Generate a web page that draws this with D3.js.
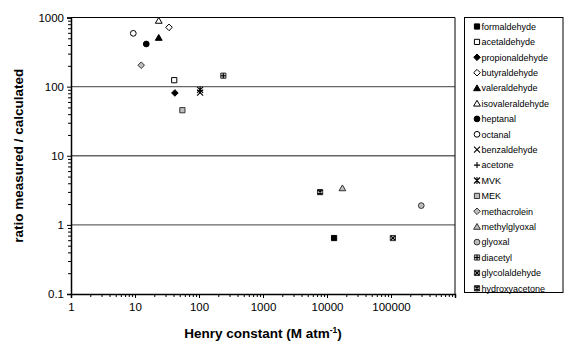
<!DOCTYPE html>
<html>
<head>
<meta charset="utf-8">
<script src="https://cdn.jsdelivr.net/npm/d3@7"></script>
<style>
  body { margin: 0; background: #fff; }
  svg { display: block; font-family: "Liberation Sans", Arial, sans-serif; }
</style>
</head>
<body>
<script>
// compounds, in legend order
const names = [
  "formaldehyde", "acetaldehyde", "propionaldehyde", "butyraldehyde",
  "valeraldehyde", "isovaleraldehyde", "heptanal", "octanal",
  "benzaldehyde", "acetone", "MVK", "MEK", "methacrolein",
  "methylglyoxal", "glyoxal", "diacetyl", "glycolaldehyde", "hydroxyacetone"
];
// Henry constant (M atm-1)
const henry = [12900, 41, 42, 34, 23.5, 23.5, 15, 9.4, 104, 104, 104, 55, 12.5, 17400, 297000, 240, 107000, 7800];
// ratio measured / calculated
const ratio = [0.645, 124, 81, 720, 510, 900, 414, 590, 82, 88, 90, 45.6, 204, 3.4, 1.9, 144, 0.645, 2.98];

const xTicks = [1, 10, 100, 1000, 10000, 100000];
const yTicks = [0.1, 1, 10, 100, 1000];

// marker look per compound
const markers = [
  {shape: "square", fill: "#000"},
  {shape: "square", fill: "#fff"},
  {shape: "diamond", fill: "#000"},
  {shape: "diamond", fill: "#fff"},
  {shape: "triangle", fill: "#000"},
  {shape: "triangle", fill: "#fff"},
  {shape: "circle", fill: "#000"},
  {shape: "circle", fill: "#fff"},
  {shape: "x", fill: "none"},
  {shape: "plus", fill: "none"},
  {shape: "star", fill: "none"},
  {shape: "square", fill: "#bdbdbd"},
  {shape: "diamond", fill: "#bdbdbd"},
  {shape: "triangle", fill: "#bdbdbd"},
  {shape: "circle", fill: "#bdbdbd"},
  {shape: "square", fill: "#bdbdbd", over: "plus"},
  {shape: "square", fill: "#bdbdbd", over: "x"},
  {shape: "square", fill: "#bdbdbd", over: "star"}
];

const width = 565, height = 345;
const margin = {top: 17.5, right: 110, bottom: 51, left: 71};

const x = d3.scaleLog().domain([1, 1e6]).range([margin.left, width - margin.right]);
const y = d3.scaleLog().domain([0.1, 1000]).range([height - margin.bottom, margin.top]);

const svg = d3.select("body").append("svg")
  .attr("width", width)
  .attr("height", height);

// horizontal gridlines
svg.append("g")
  .selectAll("line")
  .data(yTicks.slice(1, -1))
  .join("line")
  .attr("x1", x(1)).attr("x2", x(1e6))
  .attr("y1", (d) => y(d)).attr("y2", (d) => y(d))
  .attr("stroke", "#666")
  .attr("stroke-width", 1.4);

// plot frame (top and right)
svg.append("path")
  .attr("d", `M${x(1)},${y(1000)}H${x(1e6)}V${y(0.1)}`)
  .attr("fill", "none")
  .attr("stroke", "#000")
  .attr("stroke-width", 1);

const minorY = d3.range(-1, 3).flatMap((e) => d3.range(2, 10).map((m) => m * 10 ** e));
const minorX = d3.range(0, 6).flatMap((e) => d3.range(2, 10).map((m) => m * 10 ** e));

// y axis
const yAxis = svg.append("g").attr("transform", `translate(${x(1)},0)`);
yAxis.append("g")
  .call(d3.axisLeft(y).tickValues(minorY).tickSize(3).tickFormat(""))
  .call((g) => g.select(".domain").remove());
yAxis.append("g")
  .call(d3.axisLeft(y).tickValues(yTicks).tickSize(4).tickPadding(3).tickFormat((d) => String(d)))
  .call((g) => g.select(".domain").attr("stroke-width", 1.5))
  .call((g) => g.selectAll("text").attr("font-size", 11.5).attr("fill", "#000")
    .attr("font-family", "Liberation Sans, Arial, sans-serif"));

// x axis
const xAxis = svg.append("g").attr("transform", `translate(0,${y(0.1)})`);
xAxis.append("g")
  .call(d3.axisBottom(x).tickValues(minorX).tickSize(3).tickFormat(""))
  .call((g) => g.select(".domain").remove());
xAxis.append("g")
  .call(d3.axisBottom(x).tickValues(xTicks.concat([1e6])).tickSize(4).tickPadding(5)
    .tickFormat((d) => (d < 1e6 ? String(d) : "")))
  .call((g) => g.select(".domain").attr("stroke-width", 1.5))
  .call((g) => g.selectAll("text").attr("font-size", 11.5).attr("fill", "#000")
    .attr("font-family", "Liberation Sans, Arial, sans-serif"));

// axis titles
svg.append("text")
  .attr("transform", `translate(23,${(y(1000) + y(0.1)) / 2}) rotate(-90)`)
  .attr("text-anchor", "middle")
  .attr("font-size", 13.5)
  .attr("font-weight", "bold")
  .text("ratio measured / calculated");

const xt = svg.append("text")
  .attr("x", (x(1) + x(1e6)) / 2)
  .attr("y", 338)
  .attr("text-anchor", "middle")
  .attr("font-size", 13.5)
  .attr("font-weight", "bold")
  .text("Henry constant (M atm");
xt.append("tspan").attr("dy", -5).attr("font-size", 8.5).text("-1");
xt.append("tspan").attr("dy", 5).text(")");

// marker drawing
function shapePath(shape) {
  if (shape === "square") return "M-2.6,-2.6H2.6V2.6H-2.6Z";
  if (shape === "diamond") return "M0,-3.3L3.3,0L0,3.3L-3.3,0Z";
  if (shape === "triangle") return "M0,-3.2L3.4,2.6H-3.4Z";
  if (shape === "circle") return d3.symbol(d3.symbolCircle, 26)();
  return null;
}

function drawMarker(g, m) {
  const body = shapePath(m.shape);
  if (body) {
    g.append("path")
      .attr("d", body)
      .attr("fill", m.fill)
      .attr("stroke", m.fill === "#bdbdbd" ? "#333" : "#000")
      .attr("stroke-width", 1);
  }
  const glyph = m.over || (body ? null : m.shape);
  if (glyph) {
    const r = m.over ? 2.4 : 3;
    let d = "";
    if (glyph === "x" || glyph === "star") d += `M${-r},${-r}L${r},${r}M${-r},${r}L${r},${-r}`;
    if (glyph === "plus") d += `M${-r},0H${r}M0,${-r}V${r}`;
    if (glyph === "star") d += `M0,${-r - 0.5}V${r + 0.5}`;
    g.append("path")
      .attr("d", d)
      .attr("fill", "none")
      .attr("stroke", "#000")
      .attr("stroke-width", 1.1);
  }
}

// points
const pts = svg.append("g");
names.forEach((name, i) => {
  const g = pts.append("g").attr("transform", `translate(${x(henry[i])},${y(ratio[i])})`);
  drawMarker(g, markers[i]);
});

// legend
const legendX = 464.5, legendY = 17.5, rowH = 15.4;
svg.append("rect")
  .attr("x", legendX).attr("y", legendY)
  .attr("width", 98.5).attr("height", 275)
  .attr("fill", "#fff")
  .attr("stroke", "#000")
  .attr("stroke-width", 1);

const legend = svg.append("g");
names.forEach((name, i) => {
  const row = legend.append("g").attr("transform", `translate(${legendX + 12.5},${legendY + 9 + i * rowH})`);
  drawMarker(row, markers[i]);
  row.append("text")
    .attr("x", 4.5)
    .attr("y", 3.2)
    .attr("font-size", 9)
    .text(name);
});
</script>
</body>
</html>
